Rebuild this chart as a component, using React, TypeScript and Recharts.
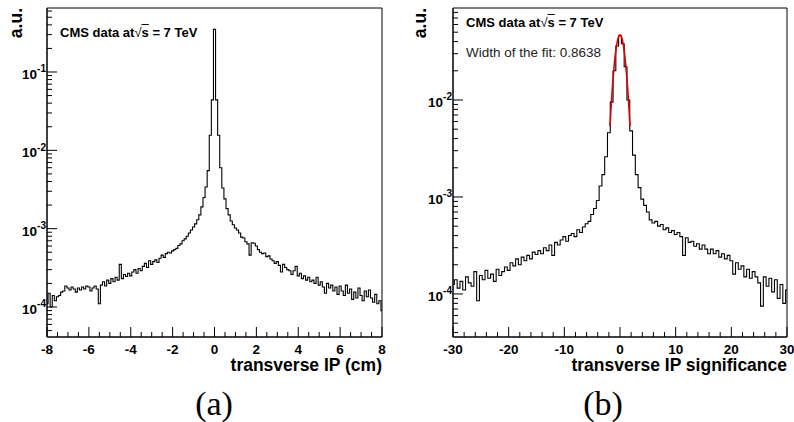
import { LineChart, Line, XAxis, YAxis, ReferenceArea } from "recharts";

// transverse IP (cm), bins of 0.1 centred on -8.0 ... 8.0
const IP_BIN_START = -8.05;
const IP_BIN_WIDTH = 0.1;
const IP_VALUES = [
  1.1e-4, 1.5e-4, 1.0e-4, 1.4e-4, 1.2e-4, 1.35e-4, 1.4e-4, 1.55e-4, 1.6e-4, 1.85e-4,
  1.75e-4, 1.65e-4, 1.8e-4, 1.7e-4, 1.55e-4, 1.75e-4, 1.65e-4, 1.8e-4, 1.7e-4, 1.85e-4,
  1.8e-4, 1.6e-4, 1.75e-4, 1.85e-4, 1.7e-4, 1.1e-4, 1.9e-4, 2.1e-4, 1.85e-4, 2.2e-4,
  2.0e-4, 2.3e-4, 2.1e-4, 2.4e-4, 2.2e-4, 3.5e-4, 2.3e-4, 2.6e-4, 2.45e-4, 2.7e-4,
  2.5e-4, 2.8e-4, 3.0e-4, 2.7e-4, 3.1e-4, 2.9e-4, 3.3e-4, 3.6e-4, 3.2e-4, 3.9e-4,
  3.5e-4, 3.8e-4, 4.0e-4, 3.7e-4, 4.2e-4, 4.6e-4, 4.3e-4, 4.8e-4, 5.0e-4, 4.9e-4,
  5.2e-4, 5.4e-4, 5.6e-4, 6.1e-4, 6.4e-4, 7.0e-4, 7.4e-4, 8.0e-4, 8.8e-4, 9.6e-4,
  1.05e-3, 1.15e-3, 1.3e-3, 1.5e-3, 1.9e-3, 2.5e-3, 3.4e-3, 5.5e-3, 1.56e-2, 4.4e-2,
  0.35,
  4.4e-2, 1.56e-2, 6.0e-3, 3.3e-3, 2.4e-3, 1.8e-3, 1.5e-3, 1.25e-3, 1.12e-3, 1.02e-3,
  9.6e-4, 8.8e-4, 7.8e-4, 7.6e-4, 6.8e-4, 6.4e-4, 4.6e-4, 6.6e-4, 6.5e-4, 6.0e-4,
  5.4e-4, 5.0e-4, 4.8e-4, 4.9e-4, 4.4e-4, 4.5e-4, 4.1e-4, 3.9e-4, 3.6e-4, 3.8e-4,
  3.4e-4, 2.8e-4, 3.5e-4, 3.2e-4, 3.0e-4, 2.9e-4, 2.6e-4, 2.9e-4, 3.3e-4, 2.5e-4,
  2.7e-4, 2.3e-4, 2.5e-4, 2.2e-4, 2.4e-4, 2.1e-4, 2.2e-4, 2.0e-4, 2.4e-4, 1.9e-4,
  2.1e-4, 1.8e-4, 1.5e-4, 2.0e-4, 1.75e-4, 1.9e-4, 1.6e-4, 1.8e-4, 1.45e-4, 1.85e-4,
  1.6e-4, 1.4e-4, 1.9e-4, 1.5e-4, 1.7e-4, 1.25e-4, 1.55e-4, 1.3e-4, 1.75e-4, 1.4e-4,
  1.2e-4, 1.6e-4, 1.35e-4, 1.65e-4, 1.3e-4, 1.15e-4, 1.45e-4, 1.1e-4, 1.2e-4, 9.0e-5,
];

// transverse IP significance, bins of 0.5 centred on -30 ... 30
const SIG_BIN_START = -30.25;
const SIG_BIN_WIDTH = 0.5;
const SIG_VALUES = [
  1.25e-4, 1.4e-4, 1.15e-4, 1.35e-4, 1.1e-4, 1.5e-4, 1.3e-4, 1.2e-4, 1.7e-4, 8.5e-5,
  1.55e-4, 1.4e-4, 1.75e-4, 1.45e-4, 1.6e-4, 1.35e-4, 1.8e-4, 1.55e-4, 1.7e-4, 1.9e-4,
  1.75e-4, 2.1e-4, 1.95e-4, 2.3e-4, 2.0e-4, 2.4e-4, 2.2e-4, 2.5e-4, 2.3e-4, 2.7e-4,
  2.55e-4, 2.8e-4, 2.6e-4, 3.0e-4, 2.8e-4, 3.2e-4, 2.5e-4, 3.4e-4, 3.2e-4, 3.6e-4,
  3.9e-4, 3.5e-4, 4.0e-4, 4.2e-4, 3.9e-4, 4.6e-4, 4.3e-4, 4.9e-4, 5.3e-4, 5.6e-4,
  6.6e-4, 7.6e-4, 9.2e-4, 1.3e-3, 1.7e-3, 2.6e-3, 4.6e-3, 9.5e-3, 2.0e-2, 3.6e-2,
  4.6e-2,
  3.8e-2, 2.2e-2, 1.0e-2, 4.8e-3, 2.7e-3, 1.7e-3, 1.25e-3, 9.5e-4, 8.2e-4, 7.0e-4,
  5.8e-4, 5.4e-4, 5.6e-4, 5.0e-4, 5.2e-4, 4.6e-4, 4.8e-4, 4.3e-4, 4.5e-4, 4.1e-4,
  4.3e-4, 3.9e-4, 2.5e-4, 3.8e-4, 3.4e-4, 3.5e-4, 3.1e-4, 3.3e-4, 2.9e-4, 3.2e-4,
  2.9e-4, 2.6e-4, 2.9e-4, 2.6e-4, 2.8e-4, 2.4e-4, 2.6e-4, 2.3e-4, 2.5e-4, 2.2e-4,
  1.6e-4, 2.1e-4, 1.8e-4, 1.95e-4, 1.5e-4, 1.8e-4, 1.45e-4, 1.7e-4, 1.5e-4, 1.3e-4,
  7.5e-5, 1.5e-4, 1.2e-4, 1.45e-4, 1.05e-4, 1.4e-4, 9e-5, 1.25e-4, 8e-5, 1.1e-4,
];

// gaussian fit drawn over the core of (b)
const FIT_X = [-1.8, -1.6, -1.4, -1.2, -1.0, -0.8, -0.6, -0.4, -0.2, 0, 0.2, 0.4, 0.6, 0.8, 1.0, 1.2, 1.4, 1.6, 1.8];
const FIT_Y = [
  5.36e-3, 8.46e-3, 1.264e-2, 1.791e-2, 2.405e-2, 3.061e-2, 3.693e-2, 4.222e-2, 4.576e-2, 4.7e-2,
  4.576e-2, 4.222e-2, 3.693e-2, 3.061e-2, 2.405e-2, 1.791e-2, 1.264e-2, 8.46e-3, 5.36e-3,
];

const DECADES = [1e-5, 1e-4, 1e-3, 1e-2, 1e-1, 1];
const MULTIPLIERS = [1, 2, 3, 4, 5, 6, 7, 8, 9];

const FONT = "'Liberation Sans', Arial, Helvetica, sans-serif";

const range = (lo: number, hi: number, step: number) => {
  const out: number[] = [];
  for (let v = lo; v <= hi + 1e-9; v += step) out.push(Math.round(v * 1000) / 1000);
  return out;
};

const logTicks = (lo: number, hi: number) =>
  DECADES.flatMap((d) => MULTIPLIERS.map((m) => +(d * m).toPrecision(3))).filter(
    (v) => v >= lo && v <= hi
  );

const histRows = (start: number, width: number, values: number[]) => {
  const rows = values.map((y, i) => ({ x: start + i * width, y }));
  rows.push({ x: start + values.length * width, y: values[values.length - 1] });
  return rows;
};

const YTick = (props: any) => {
  const { x, y, payload } = props;
  const lg = Math.log10(payload.value);
  const major = Math.abs(lg - Math.round(lg)) < 1e-6;
  return (
    <g>
      <line x1={x} x2={x + (major ? 10 : 5)} y1={y} y2={y} stroke="#000" strokeWidth={1} />
      {major && (
        <text x={x - 1} y={y + 7} textAnchor="end" fontFamily={FONT} fontWeight="bold" fontSize={13.5} fill="#000">
          10
          <tspan dy={-6.5} fontSize={10}>
            {Math.round(lg)}
          </tspan>
        </text>
      )}
    </g>
  );
};

const makeXTick = (majorStep: number) => (props: any) => {
  const { x, y, payload } = props;
  const v = payload.value;
  const major = Math.abs(v / majorStep - Math.round(v / majorStep)) < 1e-6;
  return (
    <g>
      <line x1={x} x2={x} y1={y} y2={y - (major ? 10 : 5)} stroke="#000" strokeWidth={1} />
      {major && (
        <text x={x} y={y + 16.5} textAnchor="middle" fontFamily={FONT} fontWeight="bold" fontSize={13.5} fill="#000">
          {v}
        </text>
      )}
    </g>
  );
};

type PanelProps = {
  left: number;
  width: number;
  yAxisWidth: number;
  rightMargin: number;
  data: { x: number; y: number }[];
  xDomain: [number, number];
  xTicks: number[];
  xMajor: number;
  yDomain: [number, number];
  fit?: { x: number; y: number }[];
};

const Panel = ({ left, width, yAxisWidth, rightMargin, data, xDomain, xTicks, xMajor, yDomain, fit }: PanelProps) => (
  <div style={{ position: "absolute", left, top: 0 }}>
    <LineChart width={width} height={400} data={data} margin={{ top: 8, right: rightMargin, left: 0, bottom: 0 }}>
      <XAxis
        type="number"
        dataKey="x"
        domain={xDomain}
        allowDataOverflow
        ticks={xTicks}
        interval={0}
        tickSize={0}
        tickMargin={0}
        tickLine={false}
        axisLine={{ stroke: "#000" }}
        tick={makeXTick(xMajor)}
        height={63}
      />
      <YAxis
        type="number"
        scale="log"
        domain={yDomain}
        allowDataOverflow
        ticks={logTicks(yDomain[0], yDomain[1])}
        interval={0}
        tickSize={0}
        tickMargin={0}
        tickLine={false}
        axisLine={{ stroke: "#000" }}
        tick={YTick}
        width={yAxisWidth}
      />
      <ReferenceArea
        x1={xDomain[0]}
        x2={xDomain[1]}
        y1={yDomain[0]}
        y2={yDomain[1]}
        fill="none"
        stroke="#000"
        strokeWidth={1}
      />
      <Line type="stepAfter" dataKey="y" stroke="#000" strokeWidth={1.1} dot={false} isAnimationActive={false} />
      {fit && (
        <Line
          data={fit}
          type="monotone"
          dataKey="y"
          stroke="#e00000"
          strokeWidth={1.6}
          dot={false}
          isAnimationActive={false}
        />
      )}
    </LineChart>
  </div>
);

const text = (style: React.CSSProperties, children: React.ReactNode) => (
  <div style={{ position: "absolute", fontFamily: FONT, lineHeight: 1, color: "#000", whiteSpace: "nowrap", ...style }}>
    {children}
  </div>
);

const CmsLabel = () => (
  <>
    CMS data at
    <span style={{ fontWeight: "normal" }}>√</span>
    <span style={{ textDecoration: "overline" }}>s</span> = 7 TeV
  </>
);

const AxisTitleY = ({ centerX }: { centerX: number }) => (
  <div
    style={{
      position: "absolute",
      left: centerX - 9,
      top: 8 + 60,
      width: 60,
      height: 18,
      lineHeight: "18px",
      textAlign: "right",
      fontFamily: FONT,
      fontWeight: "bold",
      fontSize: 17.5,
      transform: "rotate(-90deg)",
      transformOrigin: "0 0",
    }}
  >
    a.u.
  </div>
);

export default function App() {
  const ipData = histRows(IP_BIN_START, IP_BIN_WIDTH, IP_VALUES);
  const sigData = histRows(SIG_BIN_START, SIG_BIN_WIDTH, SIG_VALUES);
  const fitData = FIT_X.map((x, i) => ({ x, y: FIT_Y[i] }));

  return (
    <div style={{ position: "absolute", left: 0, top: 0, width: 794, height: 422, background: "#fff", overflow: "hidden" }}>
      <Panel
        left={0}
        width={400}
        yAxisWidth={47}
        rightMargin={18}
        data={ipData}
        xDomain={[-8, 8]}
        xTicks={range(-8, 8, 0.5)}
        xMajor={2}
        yDomain={[4.14e-5, 0.656]}
      />
      <Panel
        left={400}
        width={394}
        yAxisWidth={53}
        rightMargin={7}
        data={sigData}
        xDomain={[-30, 30]}
        xTicks={range(-30, 30, 2)}
        xMajor={10}
        yDomain={[3.6e-5, 0.0888]}
        fit={fitData}
      />

      <AxisTitleY centerX={16} />
      <AxisTitleY centerX={420} />

      {text({ left: 60, top: 25.7, fontSize: 13, fontWeight: "bold" }, <CmsLabel />)}
      {text({ left: 466, top: 15.7, fontSize: 13, fontWeight: "bold" }, <CmsLabel />)}
      {text({ left: 466, top: 46, fontSize: 13.5, color: "#222" }, "Width of the fit: 0.8638")}

      {text({ left: 0, width: 382, top: 357, fontSize: 17.5, fontWeight: "bold", textAlign: "right" }, "transverse IP (cm)")}
      {text({ left: 400, width: 387, top: 357, fontSize: 17.5, fontWeight: "bold", textAlign: "right" }, "transverse IP significance")}

      {text({ left: 0, width: 428, top: 386.5, fontSize: 34, fontFamily: "'Liberation Serif', 'DejaVu Serif', serif", textAlign: "center" }, "(a)")}
      {text({ left: 400, width: 406, top: 386.5, fontSize: 34, fontFamily: "'Liberation Serif', 'DejaVu Serif', serif", textAlign: "center" }, "(b)")}
    </div>
  );
}
